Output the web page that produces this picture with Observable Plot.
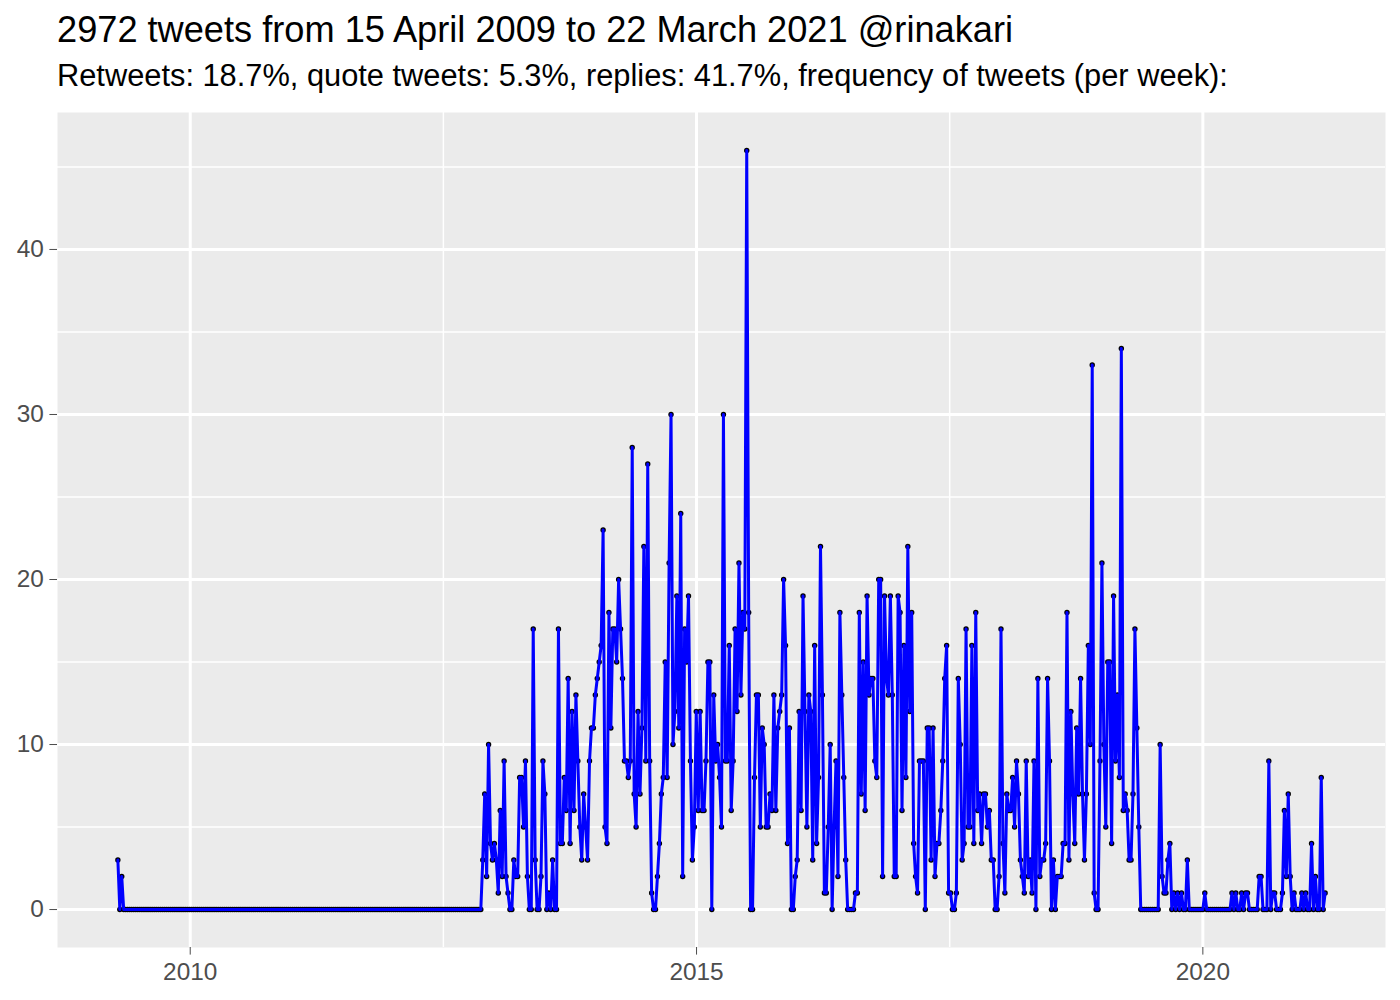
<!DOCTYPE html>
<html>
<head>
<meta charset="utf-8">
<script src="https://cdn.jsdelivr.net/npm/d3@7"></script>
<script src="https://cdn.jsdelivr.net/npm/@observablehq/plot@0.6"></script>
<style>
  html, body { margin: 0; padding: 0; background: #ffffff; }
  #page { position: relative; width: 1400px; height: 1000px; overflow: hidden; font-family: "Liberation Sans", Arial, Helvetica, sans-serif; }
  #title { position: absolute; left: 57px; top: 12px; font-size: 36.2px; line-height: 1; color: #000; white-space: nowrap; }
  #subtitle { position: absolute; left: 57px; top: 61px; font-size: 30.8px; line-height: 1; color: #000; white-space: nowrap; }
  #chart { position: absolute; left: 0; top: 100px; }
</style>
</head>
<body>
<div id="page">
  <div id="title"></div>
  <div id="subtitle"></div>
  <div id="chart"></div>
</div>
<script>
// ---- texts ----
const titleText = "2972 tweets from 15 April 2009 to 22 March 2021 @rinakari";
const subtitleText = "Retweets: 18.7%, quote tweets: 5.3%, replies: 41.7%, frequency of tweets (per week):";

// ---- data: tweets per week, weeks starting 15 April 2009 ----
const firstWeek = "2009-04-15";
const weeklyTweets = [
  3,0,2,0,0,0,0,0,0,0,      // 0
  0,0,0,0,0,0,0,0,0,0,      // 10
  0,0,0,0,0,0,0,0,0,0,      // 20
  0,0,0,0,0,0,0,0,0,0,      // 30
  0,0,0,0,0,0,0,0,0,0,      // 40
  0,0,0,0,0,0,0,0,0,0,      // 50
  0,0,0,0,0,0,0,0,0,0,      // 60
  0,0,0,0,0,0,0,0,0,0,      // 70
  0,0,0,0,0,0,0,0,0,0,      // 80
  0,0,0,0,0,0,0,0,0,0,      // 90
  0,0,0,0,0,0,0,0,0,0,      // 100
  0,0,0,0,0,0,0,0,0,0,      // 110
  0,0,0,0,0,0,0,0,0,0,      // 120
  0,0,0,0,0,0,0,0,0,0,      // 130
  0,0,0,0,0,0,0,0,0,0,      // 140
  0,0,0,0,0,0,0,0,0,0,      // 150
  0,0,0,0,0,0,0,0,0,0,      // 160
  0,0,0,0,0,0,0,0,0,0,      // 170
  0,0,0,0,0,0,0,0,3,7,      // 180
  2,10,4,3,4,3,1,6,2,9,     // 190
  2,1,0,0,3,2,2,8,8,5,      // 200
  9,2,0,0,17,3,0,0,2,9,     // 210
  7,0,1,0,3,0,0,17,4,4,     // 220
  8,6,14,4,12,6,13,9,5,3,   // 230
  7,5,3,9,11,11,13,14,15,16, // 240
  23,5,4,18,11,17,17,15,20,17, // 250
  14,9,9,8,9,28,7,5,12,7,   // 260
  11,22,9,27,9,1,0,0,2,4,   // 270
  7,8,15,8,21,30,10,12,19,11, // 280
  24,2,17,15,19,9,3,5,12,6, // 290
  12,6,6,9,15,15,0,13,9,10, // 300
  8,5,30,9,9,16,6,9,17,12,  // 310
  21,13,18,17,46,18,0,0,8,13, // 320
  13,5,11,10,5,5,7,6,13,6,  // 330
  11,12,13,20,16,4,11,0,0,2, // 340
  3,12,6,19,12,5,13,12,3,16, // 350
  4,8,22,13,1,1,5,10,0,5,   // 360
  9,2,18,13,8,3,0,0,0,0,    // 370
  1,1,18,7,15,6,19,13,14,14, // 380
  9,8,20,20,2,19,14,13,19,13, // 390
  2,2,19,18,6,16,8,22,12,18, // 400
  4,2,1,9,9,9,0,11,11,3,    // 410
  11,2,4,4,6,9,14,16,1,1,   // 420
  0,0,1,14,10,3,4,17,5,5,   // 430
  16,4,18,6,7,4,7,7,5,6,    // 440
  3,3,0,0,2,17,4,1,7,6,     // 450
  6,8,5,9,7,3,2,1,9,2,      // 460
  3,1,9,0,14,2,3,3,4,14,    // 470
  9,0,3,0,2,2,2,4,4,18,     // 480
  3,12,7,4,11,7,14,7,3,7,   // 490
  16,10,33,1,0,0,9,21,10,5, // 500
  15,15,4,19,9,13,8,34,6,7, // 510
  6,3,3,7,17,11,5,0,0,0,    // 520
  0,0,0,0,0,0,0,10,2,1,     // 530
  1,3,4,0,1,0,1,0,1,0,      // 540
  0,3,0,0,0,0,0,0,0,0,      // 550
  1,0,0,0,0,0,0,0,0,0,      // 560
  0,0,0,0,1,0,1,0,0,1,      // 570
  0,1,1,0,0,0,0,0,2,2,      // 580
  0,0,0,9,0,1,1,0,0,0,      // 590
  1,6,2,7,2,0,1,0,0,0,      // 600
  1,0,1,0,0,4,0,2,0,0,      // 610
  8,0,1                     // 620
];

// ---- axis breaks ----
const xTickYears = [2010, 2015, 2020];
const yTicks = [0, 10, 20, 30, 40];

// ---- build ----
document.getElementById("title").textContent = titleText;
document.getElementById("subtitle").textContent = subtitleText;

const start = new Date(firstWeek + "T00:00:00Z");
const data = weeklyTweets.map((n, i) => ({date: d3.utcDay.offset(start, 7 * i), n}));

const [d0, d1] = d3.extent(data, d => d.date);
const padX = (d1 - d0) * 0.05;
const yMax = d3.max(weeklyTweets);
const padY = yMax * 0.05;
const yDomain = [-padY, yMax + padY];

const xMajor = xTickYears.map(y => new Date(Date.UTC(y, 0, 1)));
const xMinor = d3.pairs(xMajor).map(([a, b]) => new Date((+a + +b) / 2));
const yStep = yTicks[1] - yTicks[0];
const yMinor = [yTicks[0] - yStep, ...yTicks].map(v => v + yStep / 2).filter(v => v > yDomain[0] && v < yDomain[1]);

const font = "'Liberation Sans', Arial, Helvetica, sans-serif";

const chart = Plot.plot({
  width: 1400,
  height: 900,
  marginTop: 12,
  marginBottom: 53,
  marginLeft: 57,
  marginRight: 15,
  style: {fontFamily: font, background: "#ffffff"},
  x: {type: "utc", domain: [new Date(+d0 - padX), new Date(+d1 + padX)]},
  y: {domain: yDomain},
  marks: [
    Plot.frame({fill: "#EBEBEB", stroke: null}),
    Plot.ruleY(yMinor, {stroke: "#ffffff", strokeWidth: 1.5}),
    Plot.ruleX(xMinor, {stroke: "#ffffff", strokeWidth: 1.5}),
    Plot.ruleY(yTicks, {stroke: "#ffffff", strokeWidth: 3}),
    Plot.ruleX(xMajor, {stroke: "#ffffff", strokeWidth: 3}),
    Plot.dot(data, {x: "date", y: "n", r: 2.7, fill: "#000000"}),
    Plot.line(data, {x: "date", y: "n", stroke: "#0000ff", strokeWidth: 3}),
    Plot.axisX(xMajor, {tickSize: 7.6, tickPadding: 8, tickFormat: d3.utcFormat("%Y"), fontSize: 24.4, color: "#4D4D4D", label: null}),
    Plot.axisY(yTicks, {tickSize: 7.6, tickPadding: 6, fontSize: 24.4, color: "#4D4D4D", label: null})
  ]
});
document.getElementById("chart").appendChild(chart);
</script>
</body>
</html>
